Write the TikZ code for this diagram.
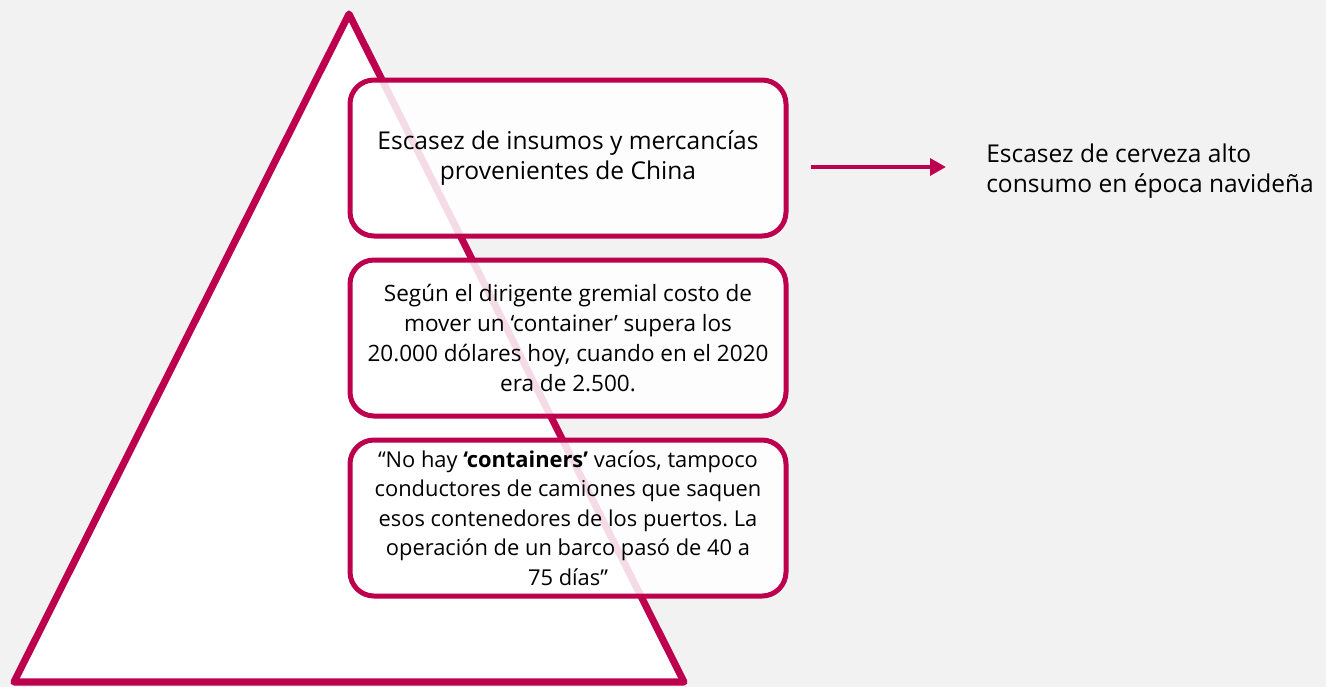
\documentclass[tikz,border=0pt]{standalone}
\usepackage{fontspec}
\setmainfont{Open Sans}
\usepackage{tikz}
\usetikzlibrary{arrows.meta}
\definecolor{crimson}{RGB}{189,0,78}
\definecolor{bgray}{RGB}{242,242,242}
\frenchspacing
\tikzset{
  card/.style={draw=crimson, line width=3.75pt, rounded corners=18pt, fill=white,
    fill opacity=0.86, text opacity=1, minimum width=327pt, minimum height=117pt,
    align=center, inner sep=0pt},
  flecha/.style={crimson, line width=3.6pt, -{Triangle[length=12pt,width=12.5pt]}}
}
\newcommand{\txtbig}{\fontsize{18.4}{22.5}\selectfont}
\newcommand{\txtmid}{\fontsize{16.9}{22.3}\selectfont}
\newcommand{\txtsml}{\fontsize{16.4}{22.1}\selectfont}

\begin{document}
\begin{tikzpicture}[x=0.75pt, y=-0.75pt]
  % canvas
  \fill[bgray] (0,0) rectangle (1326,687);
  \useasboundingbox (0,0) rectangle (1326,687);
  % pyramid: apex, bottom left, bottom right
  \coordinate (T) at (349,14);
  \coordinate (L) at (14,682);
  \coordinate (R) at (684,682);
  \draw[crimson, fill=white, line width=5.3pt, line join=round] (T)--(L)--(R)--cycle;
  % three cards over the right side of the pyramid
  \node[card, font=\txtbig] (c1) at (568,158) {Escasez de insumos y mercancías\\provenientes de China};
  \node[card, font=\txtmid] (c2) at (568,338) {Según el dirigente gremial costo de\\mover un ‘container’ supera los\\20.000 dólares hoy, cuando en el 2020\\era de 2.500.};
  \node[card, font=\txtsml] (c3) at (568,518) {“No hay \textbf{‘containers’} vacíos, tampoco\\conductores de camiones que saquen\\esos contenedores de los puertos. La\\operación de un barco pasó de 40 a\\75 días”};
  % consequence
  \node[anchor=west, align=left, inner sep=0pt, font=\txtbig] (res) at (986,171) {Escasez de cerveza alto\\consumo en época navideña};
  \coordinate (a1) at (811,167);
  \coordinate (a2) at (946,167);
  \draw[flecha] (a1) -- (a2);
\end{tikzpicture}
\end{document}
